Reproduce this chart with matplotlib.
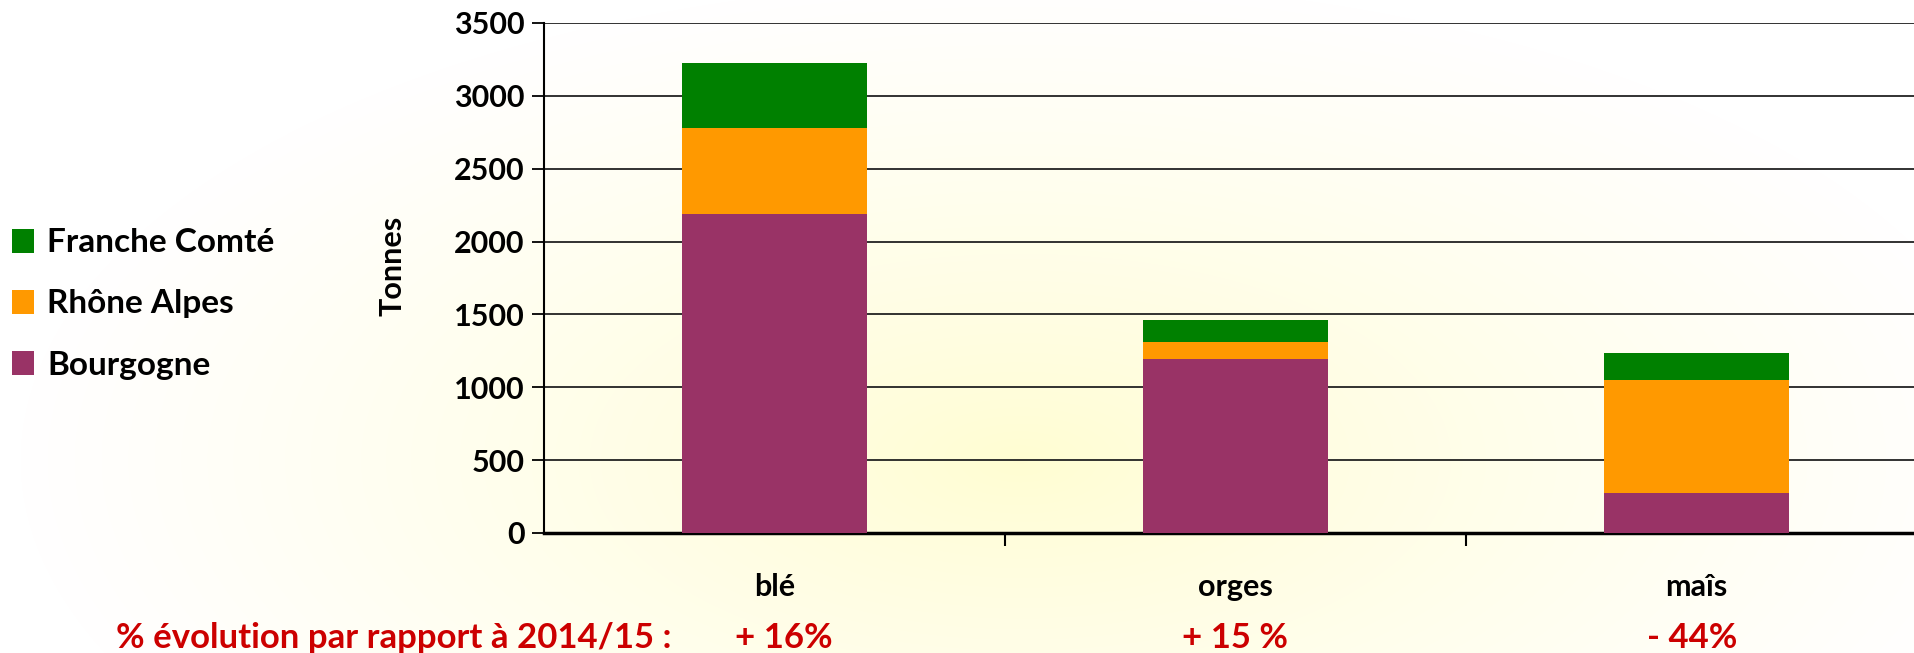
import numpy as np
import matplotlib
matplotlib.use("Agg")
import matplotlib.pyplot as plt

# data
categories = ["blé", "orges", "maîs"]
bourgogne = [2186, 1196, 272]
rhone_alpes = [596, 118, 781]
franche_comte = [443, 148, 183]
evolution = ["+ 16%", "+ 15 %", "- 44%"]
series_names = ["Bourgogne", "Rhône Alpes", "Franche Comté"]
series_colors = ["#993366", "#FF9900", "#008000"]

plt.rcParams['font.family'] = ['Lato', 'DejaVu Sans']
plt.rcParams['font.weight'] = 'bold'

W, H = 1915, 653
fig = plt.figure(figsize=(W / 100, H / 100), dpi=100)

# soft yellow radial background
bg = fig.add_axes([0, 0, 1, 1])
yy, xx = np.mgrid[0:H, 0:W]
r = np.sqrt(((xx - 1020) / 1000.0) ** 2 + ((yy - 460) / 480.0) ** 2)
t = np.clip(r, 0, 1) ** 0.8
centre = np.array([1.0, 0.992, 0.82])
img = centre[None, None, :] * (1 - t[..., None]) + np.ones(3)[None, None, :] * t[..., None]
bg.imshow(img, extent=[0, W, H, 0], aspect='auto')
bg.set_axis_off()

ax = fig.add_axes([544 / W, 120 / H, (3 * 461) / W, (533 - 23) / H])
ax.patch.set_alpha(0)

x = np.arange(len(categories))
bottom = np.zeros(len(categories))
for vals, name, col in zip([bourgogne, rhone_alpes, franche_comte], series_names, series_colors):
    ax.bar(x, vals, width=0.4, bottom=bottom, color=col, label=name, zorder=3)
    bottom += np.array(vals)

ax.set_xlim(-0.5, 2.5)
ax.set_ylim(0, 3500)
ax.set_yticks(np.arange(0, 3501, 500))
ax.yaxis.grid(True, color='#222222', linewidth=1.3, zorder=1)
ax.set_axisbelow(True)
ax.set_xticks([0.5, 1.5])
ax.set_xticklabels([])
ax.tick_params(axis='x', length=9, width=1.5, color='black', direction='out')
ax.tick_params(axis='y', length=9, width=1.3, color='black', labelsize=22, pad=5)
for lbl in ax.get_yticklabels():
    lbl.set_fontweight('bold')
ax.spines['top'].set_visible(False)
ax.spines['right'].set_visible(False)
ax.spines['left'].set_linewidth(1.5)
ax.spines['bottom'].set_linewidth(2.5)
fig.text(392 / W, 1 - 266 / H, "Tonnes", rotation=90, ha='center', va='center',
         fontsize=22, fontweight='bold')

# category labels and evolution row
ev_offset = [0.02, 0.0, -0.01]
for i, (cat, ev) in enumerate(zip(categories, evolution)):
    ax.text(i, -0.106 * 3500, cat, ha='center', va='center', fontsize=22, fontweight='bold')
    ax.text(i + ev_offset[i], -0.206 * 3500, ev, ha='center', va='center', fontsize=25,
            fontweight='bold', color='#CC0000')
fig.text(116 / W, 1 - 638 / H, "% évolution par rapport à 2014/15 :", ha='left', va='center',
         fontsize=25, fontweight='bold', color='#CC0000')

# legend, top entry first
handles, labels = ax.get_legend_handles_labels()
fig.legend(handles[::-1], labels[::-1], loc='center left', bbox_to_anchor=(0.0, 1 - 304 / H),
           frameon=False, fontsize=24, handlelength=0.67, handleheight=0.72,
           labelspacing=0.96, handletextpad=0.4, borderaxespad=0.0, borderpad=0.35)

fig.savefig("out.png", dpi=100)
